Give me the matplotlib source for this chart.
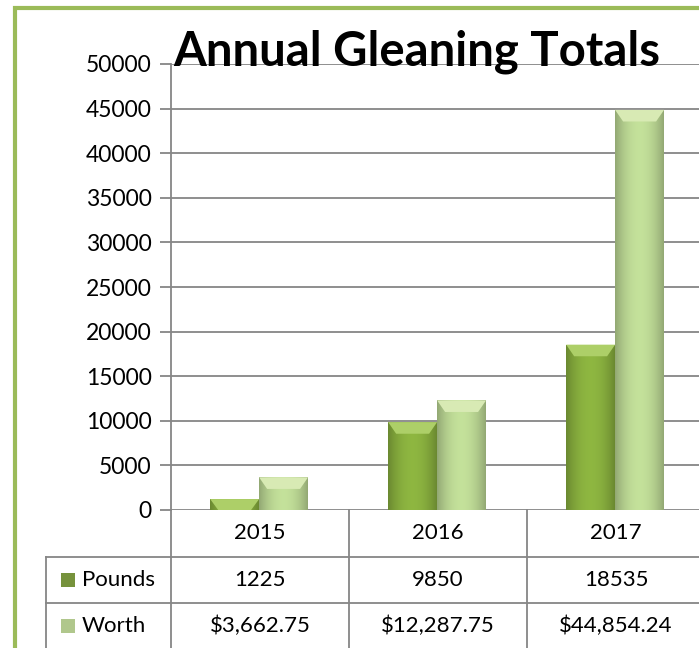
import numpy as np
import matplotlib
matplotlib.use('Agg')
import matplotlib.pyplot as plt
from matplotlib.patches import Rectangle, Polygon
from matplotlib.lines import Line2D
import matplotlib.transforms as mtransforms
from matplotlib.colors import to_rgb

years = ['2015', '2016', '2017']
pounds = [1225, 9850, 18535]
worth = [3662.75, 12287.75, 44854.24]
worth_labels = ['$3,662.75', '$12,287.75', '$44,854.24']
series_names = ['Pounds', 'Worth']
yticks = list(range(0, 50001, 5000))

plt.rcParams['font.family'] = ['Lato', 'DejaVu Sans']

W, H = 699, 648
fig = plt.figure(figsize=(W / 100, H / 100), dpi=100)

# green frame (only left and top edges are visible in the crop)
fig.add_artist(Rectangle((14.5 / W, -0.1), 1.2, 1 - 8 / H + 0.1, transform=fig.transFigure,
                         fill=False, edgecolor='#9BBB59', linewidth=3))

ax = fig.add_axes([171 / W, 138 / H, 534 / W, 446 / H])
ax.set_xlim(-0.5, 2.5)
ax.set_ylim(0, 50000)

grid_col = '#868686'
ax.set_yticks(yticks)
ax.set_yticklabels([str(v) for v in yticks], fontsize=16.5)
ax.tick_params(axis='y', length=8, width=1.3, color=grid_col, pad=6)
ax.set_xticks([])
ax.yaxis.grid(True, color=grid_col, linewidth=1.3)
ax.set_axisbelow(True)
for s in ['top', 'right', 'bottom']:
    ax.spines[s].set_visible(False)
ax.spines['left'].set_color(grid_col)
ax.spines['left'].set_linewidth(1.3)


def shade(c, f):
    c = np.array(to_rgb(c))
    return np.clip(c * f, 0, 1)


def grad_bar(x0, w, h, base, top):
    bar = ax.bar(x0 + w / 2, h, width=w, color=base, zorder=3, linewidth=0)[0]
    n = 64
    t = np.linspace(-1, 1, n)
    f = 1.12 - 0.28 * t ** 2
    img = np.array([shade(base, v) for v in f])[None, :, :]
    im = ax.imshow(img, extent=[x0, x0 + w, 0, h], aspect='auto', zorder=4,
                   interpolation='bilinear')
    im.set_clip_path(bar)
    bev = min(1300, h)
    ins = 0.045
    poly = Polygon([[x0, h], [x0 + w, h], [x0 + w - ins, h - bev], [x0 + ins, h - bev]],
                   closed=True, facecolor=top, edgecolor='none', zorder=5)
    ax.add_patch(poly)


bw = 0.275
x = np.arange(len(years))
for i in range(len(years)):
    grad_bar(x[i] - bw - 0.005, bw, pounds[i], '#7FA33A', '#ADCF68')
    grad_bar(x[i] - 0.005, bw, worth[i], '#AFC98A', '#D8EAB4')

ax.set_xlim(-0.5, 2.5)
ax.set_ylim(0, 50000)

# title
fig.text(417 / W, 1 - 65 / H, 'Annual Gleaning Totals', ha='center', va='baseline',
         fontsize=34, fontweight='bold', color='black', zorder=10)

# data table below the axes
tr = mtransforms.blended_transform_factory(ax.transData, ax.transAxes)
row_h = 46.5 / 446
lab_left = -0.5 - 125 / 178
lw = 1.3
rows_y = [0, -row_h, -2 * row_h, -3 * row_h - 0.05]
# horizontal lines
ax.add_line(Line2D([-0.5, 2.6], [-row_h, -row_h], transform=tr, color=grid_col, lw=lw, clip_on=False))
ax.add_line(Line2D([lab_left, -0.5], [-row_h, -row_h], transform=tr, color=grid_col, lw=lw, clip_on=False))
ax.add_line(Line2D([lab_left, 2.6], [-2 * row_h, -2 * row_h], transform=tr, color=grid_col, lw=lw, clip_on=False))
# vertical lines
for xv in [-0.5, 0.5, 1.5, 2.5]:
    ax.add_line(Line2D([xv, xv], [0, rows_y[-1]], transform=tr, color=grid_col, lw=lw, clip_on=False))
ax.add_line(Line2D([lab_left, lab_left], [-row_h, rows_y[-1]], transform=tr, color=grid_col, lw=lw, clip_on=False))

tfs = 16
for i, yr in enumerate(years):
    ax.text(x[i], -0.5 * row_h, yr, transform=tr, ha='center', va='center', fontsize=tfs)
    ax.text(x[i], -1.5 * row_h, str(pounds[i]), transform=tr, ha='center', va='center', fontsize=tfs)
    ax.text(x[i], -2.5 * row_h, worth_labels[i], transform=tr, ha='center', va='center', fontsize=tfs)

leg_cols = ['#76923C', '#B0C78C']
for j, name in enumerate(series_names):
    yc = -(1.5 + j) * row_h
    fig.add_artist(Rectangle((61 / W, 0), 14 / W, 14 / H, transform=fig.transFigure,
                             facecolor=leg_cols[j], edgecolor='none'))
    fig.artists[-1].set_y(ax.transAxes.transform((0, yc))[1] / H - 7 / H)
    ax.text(lab_left + 36 / 178, yc, name, transform=tr, ha='left', va='center', fontsize=tfs)

fig.savefig('out.png', dpi=100)
